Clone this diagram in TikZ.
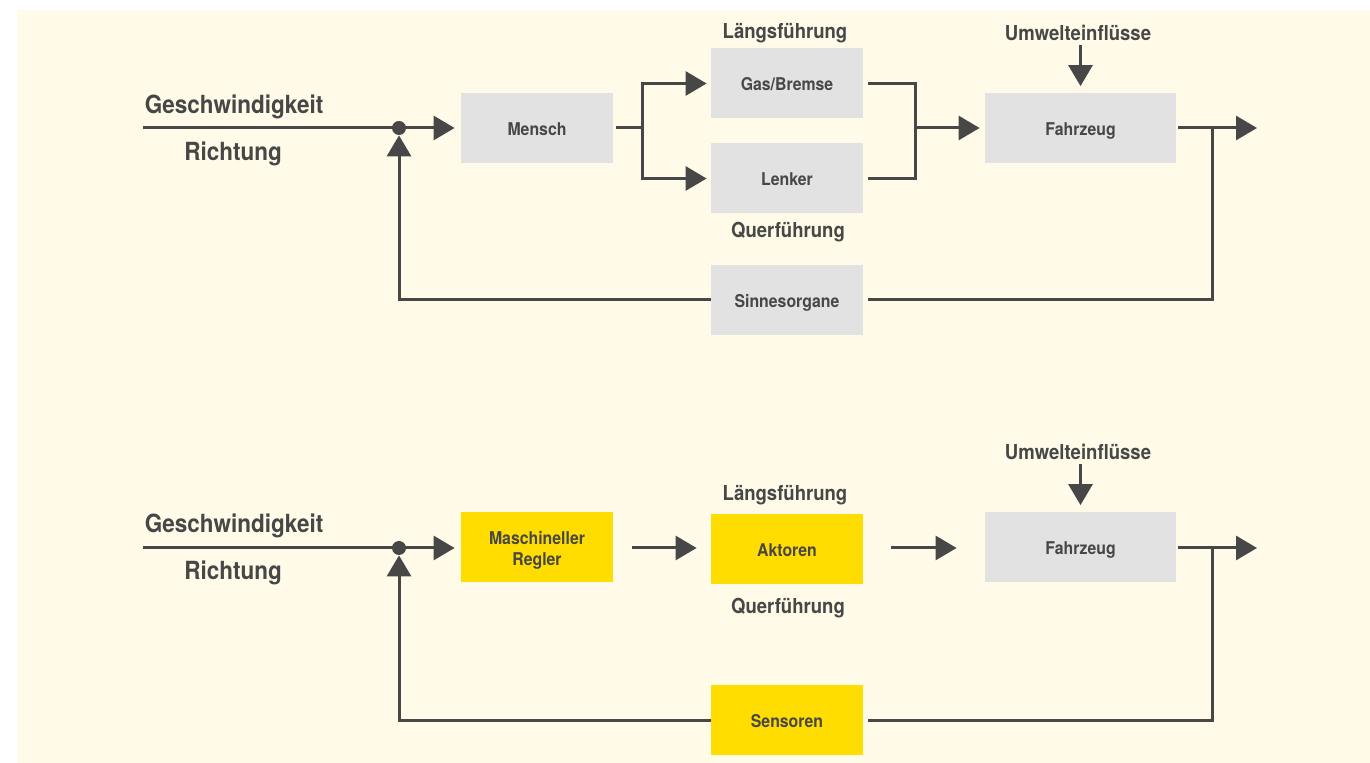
\documentclass[tikz,border=0pt]{standalone}
\usepackage{fontspec}
\setmainfont{TeX Gyre Heros}[FakeStretch=0.9]
\usetikzlibrary{arrows.meta}
\definecolor{ink}{HTML}{474747}
\definecolor{bg}{HTML}{FFFBE8}
\definecolor{boxgray}{HTML}{E2E2E2}
\definecolor{boxyellow}{HTML}{FFDD00}
\begin{document}
\begin{tikzpicture}[x=0.5pt,y=-0.5pt,
  box/.style={minimum width=76pt,minimum height=35pt,inner sep=0pt,text=ink,align=center,
    font=\bfseries\fontsize{8.8}{10.5}\selectfont},
  oneline/.style={text height=7.5pt,text depth=0pt},
  graybox/.style={box,oneline,fill=boxgray},
  yellowbox/.style={box,oneline,fill=boxyellow},
  line/.style={draw=ink,line width=1.5pt},
  arr/.style={line,-{Triangle[length=10.5pt,width=12pt]}},
  sumdot/.style={circle,fill=ink,inner sep=0pt,minimum size=7pt},
  big/.style={font=\bfseries\fontsize{12.5}{14}\selectfont,text=ink,anchor=base},
  lab/.style={font=\bfseries\fontsize{10.3}{12}\selectfont,text=ink,anchor=base}]
\useasboundingbox (0,0) rectangle (1370,763);
\fill[bg] (17,10) rectangle (1370,763);

% ---------- top loop ----------
\node[big] (g1) at (234,114) {Geschwindigkeit};
\node[big] (r1) at (233,161) {Richtung};
\node[lab] (l1) at (785,39) {Längsführung};
\node[lab] (q1) at (788,238) {Querführung};
\node[lab] (u1) at (1078,41) {Umwelteinflüsse};

\node[graybox] (mensch) at (537,128) {Mensch};
\node[graybox] (gas) at (787,83.5) {Gas/Bremse};
\node[graybox] (lenker) at (787,178.5) {Lenker};
\node[graybox,minimum width=95.5pt] (fz1) at (1080.5,128.5) {Fahrzeug};
\node[graybox] (sinn) at (787,300) {Sinnesorgane};

\coordinate (in1) at (143,128);
\node[sumdot] (sum1) at (399,128) {};
\coordinate (split1) at (642,128);
\coordinate (join1) at (915,128);
\coordinate (tap1) at (1212,128);
\coordinate (out1) at (1257,128);
\coordinate (env1) at (1080.5,45);

\draw[line] (in1) -- (sum1.center);
\draw[arr,shorten >=3pt] (sum1.center) -- (mensch.west);
\draw[line,shorten <=1.5pt] (mensch.east) -- (split1);
\draw[arr,shorten >=2pt] (split1) |- (gas.west);
\draw[arr,shorten >=2pt] (split1) |- (lenker.west);
\draw[line,shorten <=2.5pt,shorten >=2.5pt] (gas.east) -| (join1) |- (lenker.east);
\draw[arr,shorten >=2.5pt] (join1) -- (fz1.west |- join1);
\draw[arr,shorten >=3.5pt] (env1) -- (fz1.north);
\draw[arr,shorten <=1pt] (fz1.east |- out1) -- (out1);
\draw[line,shorten >=2.5pt] (tap1) |- (sinn.east);
\draw[arr] (sinn.west) -| (sum1.south);

% ---------- bottom loop ----------
\node[big] (g2) at (234,533) {Geschwindigkeit};
\node[big] (r2) at (233,580) {Richtung};
\node[lab] (l2) at (785,501) {Längsführung};
\node[lab] (q2) at (788,614) {Querführung};
\node[lab] (u2) at (1078,460) {Umwelteinflüsse};

\node[box,fill=boxyellow,text height=18.5pt,text depth=0pt] (regler) at (537,547.5) {Maschineller\\Regler};
\node[yellowbox] (akt) at (787,549.5) {Aktoren};
\node[graybox,minimum width=95.5pt] (fz2) at (1080.5,547.5) {Fahrzeug};
\node[yellowbox] (sens) at (787,720) {Sensoren};

\coordinate (in2) at (143,548);
\node[sumdot] (sum2) at (399,548) {};
\coordinate (tap2) at (1212,548);
\coordinate (out2) at (1257,548);
\coordinate (env2) at (1080.5,464);

\draw[line] (in2) -- (sum2.center);
\draw[arr,shorten >=3pt] (sum2.center) -- (regler.west |- sum2);
\draw[arr,shorten <=9.5pt,shorten >=7pt] (regler.east |- sum2) -- (akt.west |- sum2);
\draw[arr,shorten <=14pt,shorten >=14pt] (akt.east |- sum2) -- (fz2.west |- sum2);
\draw[arr,shorten >=3.5pt] (env2) -- (fz2.north);
\draw[arr,shorten <=1pt] (fz2.east |- out2) -- (out2);
\draw[line,shorten >=2.5pt] (tap2) |- (sens.east);
\draw[arr] (sens.west) -| (sum2.south);
\end{tikzpicture}
\end{document}
